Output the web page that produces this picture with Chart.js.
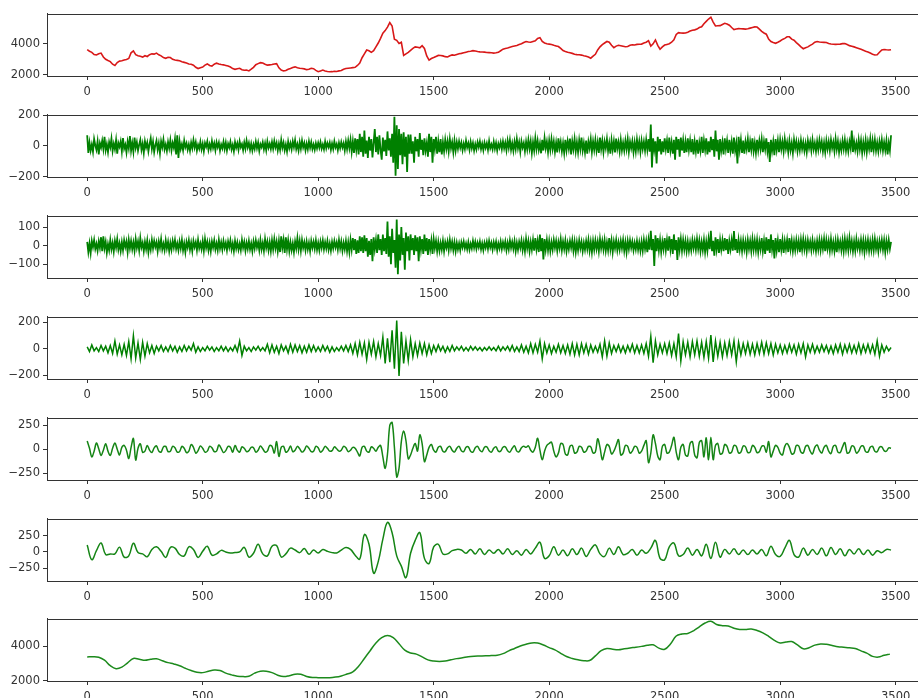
<!DOCTYPE html>
<html>
<head>
<meta charset="utf-8">
<script src="https://cdn.jsdelivr.net/npm/chart.js@4.4.1/dist/chart.umd.min.js"></script>
<style>
    html, body { margin: 0; padding: 0; background: #fff; }
    body { width: 918px; height: 698px; overflow: hidden; position: relative; }
    .panel { position: absolute; left: 0; width: 940px; height: 96px; }
</style>
</head>
<body>
<div id="panels"></div>
<script>
// tick labels shared by every subplot
const xTicks = [0, 500, 1000, 1500, 2000, 2500, 3000, 3500];

// original series, one value every 10 samples
const priceSeries = [
    3620, 3520, 3450, 3310, 3280, 3360, 3400, 3150, 3000, 2920, 2850, 2680, 2600, 2790, 2880, 2900, 2950, 2990, 3050, 3420,
    3540, 3300, 3230, 3190, 3140, 3230, 3180, 3300, 3350, 3330, 3400, 3290, 3220, 3110, 3060, 3130, 3110, 3000, 2950, 2930,
    2900, 2840, 2800, 2760, 2700, 2680, 2620, 2480, 2400, 2460, 2500, 2620, 2700, 2600, 2560, 2680, 2750, 2700, 2660, 2640,
    2600, 2560, 2500, 2400, 2350, 2390, 2420, 2330, 2290, 2300, 2250, 2360, 2480, 2650, 2720, 2780, 2760, 2680, 2620, 2640,
    2660, 2700, 2720, 2450, 2300, 2250, 2270, 2350, 2400, 2470, 2510, 2450, 2420, 2400, 2380, 2330, 2350, 2420, 2390, 2280,
    2200, 2250, 2300, 2240, 2210, 2190, 2200, 2230, 2210, 2250, 2280, 2360, 2400, 2420, 2440, 2460, 2480, 2600, 2750, 3100,
    3350, 3600, 3550, 3450, 3560, 3800, 4050, 4350, 4680, 4850, 5080, 5370, 5150, 4300, 4220, 4020, 4100, 3250, 3350, 3450,
    3580, 3700, 3800, 3780, 3740, 3880, 3700, 3210, 2950, 3050, 3110, 3180, 3250, 3240, 3220, 3170, 3150, 3230, 3280, 3260,
    3310, 3360, 3380, 3420, 3460, 3500, 3520, 3560, 3540, 3500, 3480, 3470, 3460, 3440, 3430, 3420, 3400, 3420, 3450, 3550,
    3650, 3700, 3730, 3780, 3820, 3860, 3890, 3950, 4000, 4080, 4150, 4120, 4100, 4150, 4200, 4350, 4400, 4150, 4050, 4000,
    3980, 3950, 3900, 3860, 3820, 3700, 3560, 3500, 3450, 3420, 3380, 3330, 3300, 3290, 3270, 3230, 3200, 3150, 3070, 3200,
    3320, 3600, 3800, 3950, 4050, 4150, 4100, 3900, 3750, 3850, 3900, 3870, 3840, 3810, 3820, 3900, 3940, 3920, 3960, 3970,
    3980, 4050, 4100, 4200, 3850, 4000, 4250, 3900, 3650, 3800, 3920, 3960, 4000, 4100, 4250, 4600, 4720, 4700, 4690, 4700,
    4750, 4820, 4880, 4900, 4950, 5050, 5100, 5300, 5450, 5600, 5720, 5400, 5150, 5160, 5170, 5250, 5320, 5280, 5200, 5050,
    4920, 4950, 4980, 4970, 4960, 4950, 4970, 5010, 5050, 5090, 5080, 4950, 4800, 4700, 4620, 4300, 4150, 4080, 4030, 4100,
    4180, 4280, 4350, 4450, 4450, 4300, 4230, 4080, 3950, 3800, 3680, 3750, 3800, 3900, 3980, 4100, 4150, 4120, 4100, 4090,
    4080, 4020, 3990, 3970, 3960, 3970, 3980, 4010, 4020, 3950, 3880, 3840, 3800, 3750, 3700, 3640, 3580, 3520, 3470, 3400,
    3330, 3280, 3290, 3450, 3600, 3630, 3610, 3600, 3620
];

// component 1, one value every 5 samples
const imf1 = [
    70, -45, 22, -30, 10, -38, 45, 5, -25, 30, -55, 18, -10, 35, -20, 60, -28, 12, -40, 25, -8, 48, -32, 15, -22, 38, -50, 20, -5, 30, -35, 52, -18, 8, -42, 28, -15, 65, -30, 20,
    -38, 55, -12, 25, -30, 8, 40, -25, 15, -45, 30, -10, 22, -35, 12, 50, -20, 28, -40, 5, 35, -25, 18, -48, 30, -8, 42, -22, 10, -32, 26, -15, 38, -28, 20, -12, 45, -55, 70, -78,
    30, -20, 12, -28, 35, -8, 18, -25, 10, -32, 22, -15, 38, -10, 25, -30, 8, -18, 28, -22, 15, -35, 20, -5, 30, -25, 12, -20, 32, -12, 18, -28, 25, -8, 22, -30, 10, -15, 28, -20,
    22, -30, 15, -10, 28, -22, 8, -35, 25, -12, 18, -25, 30, -8, 12, -28, 22, -18, 35, -10, 20, -25, 15, -30, 10, -20, 28, -15, 22, -32, 12, -8, 25, -22, 18, -28, 30, -12, 15, -20,
    25, -18, 32, -10, 20, -30, 15, -25, 40, -12, 22, -28, 10, -35, 28, -15, 18, -22, 30, -8, 38, -20, 12, -30, 25, -18, 35, -10, 20, -28, 15, -22, 30, -12, 25, -20, 10, -25, 18, -15,
    20, -12, 25, -18, 10, -22, 28, -15, 18, -8, 22, -25, 15, -20, 30, -10, 12, -28, 20, -15, 25, -10, 18, -30, 28, -20, 35, -15, 40, -38, 30, -45, 50, -25, 45, -55, 80, -40, 60, -70,
    100, -50, 35, -78, 60, -30, 45, -75, 20, 110, -40, 60, -55, 70, -25, -90, 55, -35, 40, -65, 95, -30, 50, -70, 80, -110, 190, -195, 135, -150, 110, -60, 80, -120, 90, -70, 60, -170, 75, -50,
    75, -50, 30, -110, 60, -35, 45, -70, 85, -25, 40, -60, 50, -30, 20, -70, 80, -40, 60, -110, 45, -20, 60, -50, 30, -40, 45, -55, 25, -35, 40, -20, 30, -35, 45, -15, 25, -40, 35, -30,
    25, -18, 30, -12, 22, -28, 15, -20, 35, -10, 18, -25, 28, -15, 20, -30, 12, -22, 25, -8, 30, -20, 15, -28, 22, -12, 18, -25, 32, -15, 10, -22, 28, -18, 20, -30, 15, -12, 25, -20,
    30, -15, 22, -28, 35, -12, 40, -25, 18, -32, 28, -20, 45, -15, 25, -38, 30, -10, 20, -35, 28, -22, 40, -18, 32, -45, 25, -30, 50, -20, 35, -25, 18, -48, 40, -30, 52, -15, 28, -40,
    35, -25, 45, -20, 30, -38, 22, -42, 50, -15, 28, -35, 20, -45, 40, -28, 32, -18, 48, -55, 30, -22, 45, -35, 25, -40, 38, -20, 55, -30, 20, -42, 35, -50, 28, -15, 45, -38, 30, -25,
    40, -30, 25, -45, 55, -20, 35, -40, 28, -15, 45, -32, 20, -50, 38, -25, 30, -42, 48, -18, 25, -35, 40, -28, 22, -30, 35, -20, 45, -38, 28, -15, 32, -40, 25, -35, 42, -22, 30, -38,
    35, -20, 28, -30, 40, -25, 45, -38, 140, -140, 50, -25, 30, -115, 60, -35, 45, -55, 30, -40, 50, -20, 35, -45, 55, -30, 25, -50, 40, -90, 60, -25, 45, -70, 55, -30, 38, -45, 28, -40,
    50, -25, 35, -40, 45, -55, 28, -35, 40, -50, 22, -30, 60, -45, 35, -25, 50, -55, 30, -40, 60, -28, 45, -70, 100, -35, 40, -90, 45, -30, 25, -55, 50, -20, 35, -45, 40, -30, 28, -50,
    55, -30, 20, -115, 60, -25, 40, -45, 35, -50, 28, -20, 45, -40, 30, -25, 50, -35, 22, -45, 40, -28, 35, -20, 45, -40, 30, -22, 50, -35, 25, -105, 40, -30, 28, -60, 45, -25, 35, -40,
    40, -22, 30, -35, 45, -18, 25, -40, 35, -28, 20, -45, 40, -15, 30, -35, 22, -28, 38, -20, 25, -32, 18, -40, 35, -15, 28, -30, 40, -22, 20, -35, 30, -25, 38, -18, 28, -35, 22, -40,
    35, -20, 28, -30, 40, -15, 25, -35, 45, -22, 30, -40, 18, -28, 35, -20, 40, -30, 22, -35, 28, -15, 100, -40, 30, -25, 20, -35, 40, -22, 35, -45, 25, -30, 38, -40, 28, -20, 45, -40,
    35, -25, 40, -30, 22, -35, 30, -20, 40, -30, 25, -28, 35, -55, 20, -30, 70
];

// component 2, one value every 5 samples
const imf2 = [
    20, -35, 12, -40, 25, -8, 30, -18, 10, -28, 22, -12, 45, -30, 50, -15, 20, -38, 8, -25, 30, -20, 15, -32, 25, -10, 35, -22, 12, -30, 18, -25, 28, -8, 22, -35, 30, -15, 25, -20,
    18, -28, 35, -12, 22, -25, 40, -10, 15, -30, 20, -18, 28, -35, 12, -22, 30, -15, 25, -8, 18, -30, 22, -12, 35, -20, 10, -25, 28, -15, 20, -30, 15, -22, 25, -10, 30, -18, 12, -25,
    22, -15, 30, -25, 12, -35, 20, -10, 28, -22, 15, -30, 25, -8, 18, -25, 30, -15, 12, -20, 25, -28, 35, -12, 20, -25, 15, -30, 22, -10, 28, -20, 12, -25, 30, -15, 18, -22, 25, -12,
    15, -25, 22, -10, 28, -20, 12, -30, 25, -15, 18, -22, 10, -25, 30, -12, 20, -28, 15, -18, 25, -20, 12, -30, 22, -15, 28, -10, 18, -25, 30, -20, 15, -28, 35, -12, 22, -25, 18, -30,
    28, -20, 35, -15, 22, -30, 25, -35, 50, -12, 30, -40, 45, -20, 28, -30, 18, -25, 12, -35, 22, -15, 40, -20, 25, -28, 30, -12, 18, -25, 22, -20, 15, -30, 25, -12, 20, -18, 28, -22,
    15, -25, 22, -12, 28, -20, 18, -15, 25, -22, 12, -28, 20, -15, 25, -10, 18, -22, 30, -15, 22, -28, 15, -20, 25, -30, 18, -35, 30, -22, 40, -25, 35, -45, 28, -40, 50, -30, 45, -40,
    55, -30, 40, -60, 25, -50, 35, -85, 45, -20, 30, -40, 60, -25, 35, -50, 60, -30, 40, -45, 130, -60, 50, -100, 90, -40, 30, -120, 140, -155, 60, -80, 100, -50, 40, -130, 70, -30, 50, -80,
    60, -25, 40, -50, 55, -30, 45, -85, 50, -20, 35, -45, 60, -30, 40, -50, 35, -20, 28, -45, 35, -15, 25, -30, 20, -28, 15, -22, 25, -30, 18, -12, 22, -25, 30, -15, 20, -25, 18, -30,
    15, -20, 12, -25, 18, -10, 22, -15, 12, -20, 18, -22, 10, -15, 25, -12, 20, -18, 15, -10, 22, -20, 12, -25, 15, -12, 20, -18, 25, -10, 15, -22, 18, -12, 20, -25, 12, -15, 22, -18,
    18, -12, 22, -25, 15, -20, 28, -12, 20, -18, 25, -30, 15, -22, 20, -12, 28, -25, 18, -30, 35, -15, 25, -30, 20, -22, 30, -28, 40, -20, 25, -35, 60, -30, 40, -75, 35, -22, 30, -25,
    25, -30, 18, -22, 30, -12, 25, -28, 20, -15, 35, -25, 22, -18, 28, -30, 15, -20, 25, -12, 30, -28, 22, -35, 18, -25, 28, -15, 20, -30, 15, -22, 25, -18, 30, -28, 20, -35, 25, -22,
    28, -18, 22, -30, 35, -15, 25, -22, 30, -28, 18, -25, 40, -20, 28, -35, 22, -15, 30, -25, 18, -22, 25, -15, 30, -28, 20, -35, 25, -18, 28, -12, 22, -25, 15, -20, 25, -22, 18, -28,
    22, -28, 30, -18, 25, -35, 30, -22, 80, -25, 35, -110, 55, -30, 40, -25, 30, -35, 22, -20, 40, -25, 30, -28, 50, -20, 35, -45, 60, -25, 30, -78, 45, -20, 35, -28, 30, -22, 25, -30,
    22, -28, 18, -25, 30, -15, 25, -22, 35, -18, 28, -30, 20, -25, 30, -35, 22, -28, 35, -20, 80, -30, 25, -55, 45, -20, 35, -40, 30, -22, 28, -30, 40, -25, 35, -45, 25, -20, 30, -28,
    78, -25, 35, -40, 30, -22, 25, -30, 28, -20, 22, -35, 30, -18, 25, -30, 35, -22, 28, -25, 30, -35, 22, -20, 40, -30, 25, -45, 45, -28, 35, -40, 60, -20, 30, -70, 40, -25, 28, -35,
    35, -22, 30, -40, 25, -18, 30, -35, 40, -20, 28, -30, 22, -25, 30, -18, 25, -35, 30, -22, 35, -20, 25, -30, 28, -15, 22, -25, 30, -20, 18, -30, 25, -22, 30, -25, 28, -18, 35, -30,
    30, -18, 25, -28, 35, -22, 20, -30, 25, -35, 30, -15, 22, -25, 28, -30, 35, -20, 30, -25, 40, -18, 25, -30, 22, -28, 35, -15, 20, -25, 30, -22, 28, -35, 25, -20, 30, -28, 22, -25,
    30, -25, 35, -18, 22, -30, 25, -15, 30, -22, 28, -35, 25, -20, 30, -18, 20
];

// component 3, one value every 10 samples
const imf3 = [
    15, -20, 30, -15, 10, -20, 25, -15, 20, -30, 25, -35, 60, -40, 30, -45, 35, -50, 55, -75,
    100, -70, 45, -80, 50, -55, 40, -30, 25, -35, 20, -15, 25, -20, 15, -20, 25, -15, 20, -25,
    15, -20, 25, -15, 20, -10, 40, -25, 15, -20, 10, -15, 20, -10, 15, -20, 10, -15, 20, -15,
    15, -20, 10, -15, 25, -20, 60, -50, 20, -15, 10, -20, 15, -10, 20, -15, 10, -15, 35, -30,
    30, -25, 20, -35, 30, -15, 20, -30, 35, -25, 30, -20, 25, -30, 20, -25, 30, -20, 25, -20,
    15, -20, 25, -15, 20, -25, 15, -20, 10, -15, 20, -15, 25, -20, 30, -35, 40, -45, 50, -40,
    45, -80, 50, -40, 55, -60, 40, -50, 90, -110, 80, -100, 140, -150, 215, -205, 130, -110, 60, -87,
    70, -60, 40, -50, 45, -35, 40, -45, 30, -35, 25, -20, 30, -15, 20, -25, 15, -20, 25, -15,
    15, -10, 20, -15, 10, -15, 20, -10, 15, -10, 10, -15, 10, -10, 15, -10, 10, -15, 20, -15,
    15, -10, 20, -15, 25, -20, 15, -20, 30, -25, 20, -30, 40, -30, 35, -25, 60, -75, 40, -30,
    30, -35, 20, -25, 35, -30, 25, -35, 30, -40, 40, -45, 35, -45, 40, -30, 35, -40, 30, -25,
    20, -25, 35, -60, 60, -55, 45, -35, 25, -20, 30, -25, 20, -30, 25, -20, 35, -30, 25, -30,
    30, -35, 40, -55, 95, -105, 60, -45, 35, -30, 40, -35, 45, -50, 40, -60, 115, -93, 55, -45,
    50, -60, 55, -45, 60, -55, 50, -65, 55, -70, 105, -98, 60, -55, 50, -60, 45, -50, 55, -45,
    60, -98, 50, -45, 40, -35, 45, -40, 35, -45, 40, -35, 50, -40, 45, -35, 40, -45, 35, -30,
    30, -35, 25, -30, 35, -25, 30, -40, 35, -30, 40, -60, 30, -25, 35, -30, 20, -25, 30, -20,
    25, -30, 20, -35, 30, -25, 35, -40, 30, -25, 35, -30, 25, -30, 40, -35, 30, -25, 35, -30,
    30, -40, 60, -55, 30, -25, 20, -15, 10
];

// component 4, one value every 10 samples
const imf4 = [
    87, 10, -80, -20, 65, 5, -65, -10, 58, -20, -65, 10, 65, 0, -60, 20, 40, -10, -97, 20,
    113, -113, 10, 58, -32, -20, 40, -10, -35, 15, 35, -20, -30, 25, 30, -25, -20, 30, 15, -30,
    -25, 30, 10, -35, -20, 50, 20, -40, -15, 35, 10, -30, -20, 30, 15, -25, -20, 45, 10, -35,
    -15, 30, 20, -30, 40, -10, -30, 25, 10, -25, -15, 20, 15, -30, -10, 35, 5, -30, -20, 40,
    30, -40, 80, -75, 20, 30, -30, -15, 35, -25, -10, 30, 5, -30, -10, 35, 10, -25, -20, 30,
    15, -30, -10, 30, 10, -20, -15, 25, 5, -20, -10, 30, 15, -25, -10, 20, 10, -30, -70, 20,
    30, -20, -30, 25, 10, -20, 20, 40, -80, -200, -50, 250, 280, 20, -290, -200, 80, 190, 90, -100,
    -60, 10, 60, -20, 150, 60, -130, -60, 20, 50, -10, -30, 20, 30, -20, -25, 15, 30, -10, -30,
    10, 30, -15, -25, 20, 25, -20, -30, 15, 30, -10, -25, 20, 25, -15, -30, 10, 25, -20, -20,
    20, 25, -15, -30, 10, 35, -20, -25, 15, 30, 20, 35, -10, -30, 20, 115, -10, -110, -20, 40,
    60, 75, -20, -80, -40, 60, 50, -50, -60, 30, 40, -40, -30, 30, 20, -30, -20, 30, 25, -40,
    -30, 110, 20, -110, -30, 50, 30, -50, -20, 40, 100, -60, -40, 40, 30, -40, -20, 30, 20, -40,
    -20, 40, 90, -140, -40, 150, 60, -70, -110, 30, 50, -40, -30, 40, 125, -30, -110, 20, 50, -60,
    -70, 60, 80, -60, -90, 70, 90, -80, 120, -110, 125, -110, 40, 60, -50, -40, 50, 30, -40, -30,
    40, 30, -40, -30, 35, 25, -35, -30, 40, 20, -35, -25, 30, 35, -30, 80, -80, -20, 40, 20,
    -40, -60, 30, 60, 20, -50, -40, 40, 35, -30, -40, 30, 40, -20, -50, 20, 45, -10, -40, 20,
    40, -20, -45, 30, 40, -30, -35, 25, 70, -40, -30, 35, 25, -40, -20, 30, 35, -25, -30, 20,
    30, -20, -25, 20, 25, -15, -20, 15, 10
];

// component 5, one value every 20 samples
const imf5 = [
    107, -120, 20, 140, -40, -30, -30, 75, -80, -60,
    135, -10, -30, -75, 40, 80, 10, -85, 70, 60,
    -40, -60, 80, 40, -85, 10, 90, -50, -30, 25,
    0, -15, -10, 0, 73, -80, -20, 120, -30, -60,
    90, 100, -78, -30, 60, 30, -10, 55, -35, 30,
    -15, 40, 10, -10, -15, 30, 68, 40, -50, -110,
    270, 120, -330, -150, 200, 460, 300, -60, -220, -400,
    -20, 180, 300, -100, -180, 80, 120, -30, -30, 20,
    40, 30, -20, 40, -30, 50, -40, 30, -20, 40,
    -30, 50, -40, 20, -50, 40, -30, 60, 150, -100,
    -60, 80, -50, 30, -60, 50, -40, 60, -70, 40,
    110, -30, -70, 60, -40, 80, -40, -20, 40, -50,
    30, -20, 60, 180, -100, -120, 80, 140, -60, -40,
    60, -50, 40, -60, 120, -100, 150, -80, 40, -30,
    50, -40, 30, -40, 30, -30, 40, -60, 90, -40,
    -70, 60, 180, -40, -80, 60, -50, 40, -40, 60,
    -60, 70, -40, 50, -60, 40, -30, 50, -40, 30,
    -50, 20, -10, 40, 30
];

// trend, one value every 25 samples
const trend = [
    3390, 3400, 3370, 3200, 2880, 2710, 2800, 3050,
    3300, 3250, 3190, 3250, 3280, 3170, 3060, 2980,
    2880, 2730, 2600, 2500, 2480, 2560, 2630, 2600,
    2450, 2350, 2270, 2250, 2270, 2450, 2560, 2560,
    2480, 2330, 2250, 2300, 2390, 2380, 2260, 2200,
    2190, 2180, 2180, 2220, 2290, 2400, 2520, 2850,
    3300, 3750, 4200, 4500, 4630, 4500, 4150, 3780,
    3620, 3550, 3390, 3220, 3150, 3130, 3150, 3220,
    3290, 3340, 3400, 3430, 3440, 3450, 3470, 3490,
    3580, 3740, 3880, 4020, 4120, 4200, 4190, 4080,
    3930, 3800, 3600, 3410, 3300, 3220, 3170, 3180,
    3450, 3750, 3880, 3830, 3800, 3860, 3910, 3950,
    4000, 4060, 4090, 3900, 3830, 4140, 4600, 4720,
    4750, 4900, 5130, 5350, 5450, 5270, 5200, 5180,
    5050, 4980, 4980, 5000, 4920, 4780, 4580, 4350,
    4200, 4250, 4280, 4080, 3860, 3920, 4070, 4140,
    4120, 4050, 3980, 3950, 3920, 3880, 3740, 3610,
    3420, 3380, 3480, 3550
];

document.addEventListener("DOMContentLoaded", () => {
    const font = { family: "DejaVu Sans", size: 11.5 };
    const ink = "#333";

    const panels = [
        { values: priceSeries, step: 10, color: "#d81818", width: 1.6, yMin: 1920, yMax: 5930, yTicks: [2000, 4000], top: 9, tension: 0 },
        { values: imf1, step: 5, color: "#008000", width: 1.8, yMin: -203, yMax: 203, yTicks: [-200, 0, 200], top: 110, tension: 0 },
        { values: imf2, step: 5, color: "#008000", width: 1.8, yMin: -175, yMax: 160, yTicks: [-100, 0, 100], top: 211, tension: 0 },
        { values: imf3, step: 10, color: "#008000", width: 1.5, yMin: -228, yMax: 242, yTicks: [-200, 0, 200], top: 312, tension: 0 },
        { values: imf4, step: 10, color: "#158515", width: 1.5, yMin: -322, yMax: 328, yTicks: [-250, 0, 250], top: 413, tension: 0.35 },
        { values: imf5, step: 20, color: "#158515", width: 1.5, yMin: -452, yMax: 515, yTicks: [-250, 0, 250], top: 514, tension: 0.4 },
        { values: trend, step: 25, color: "#1c8a1c", width: 1.5, yMin: 1995, yMax: 5590, yTicks: [2000, 4000], top: 614, tension: 0.4 },
    ];

    // matplotlib-style full frame round the plot area
    const frame = {
        id: "frame",
        afterDatasetsDraw(chart) {
            const { ctx, chartArea: a } = chart;
            ctx.save();
            ctx.strokeStyle = ink;
            ctx.lineWidth = 1;
            ctx.strokeRect(Math.round(a.left) + 0.5, Math.round(a.top) + 0.5,
                Math.round(a.right - a.left), Math.round(a.bottom - a.top));
            ctx.restore();
        },
    };

    const container = document.getElementById("panels");

    panels.forEach((p, index) => {
        const box = document.createElement("div");
        box.className = "panel";
        box.style.top = (p.top - 5) + "px";
        box.innerHTML = `<canvas id="chart-${index}" width="940" height="96"></canvas>`;
        container.appendChild(box);

        const ctx = document.getElementById(`chart-${index}`).getContext("2d");
        new Chart(ctx, {
            type: "line",
            data: {
                datasets: [{
                    data: p.values.map((v, i) => ({ x: i * p.step, y: v })),
                    borderColor: p.color,
                    borderWidth: p.width,
                    pointRadius: 0,
                    tension: p.tension,
                    fill: false,
                }],
            },
            options: {
                responsive: false,
                animation: false,
                devicePixelRatio: 1,
                layout: { padding: { top: 5, right: 9, left: 0, bottom: 0 } },
                plugins: { legend: { display: false }, tooltip: { enabled: false } },
                scales: {
                    x: {
                        type: "linear",
                        min: -174,
                        max: 3653,
                        afterFit: (s) => { s.height = 24; },
                        afterBuildTicks: (s) => { s.ticks = xTicks.map((v) => ({ value: v })); },
                        ticks: { font, color: ink, padding: 5, maxRotation: 0, autoSkip: false, callback: (v) => String(v) },
                        grid: { drawOnChartArea: false, tickLength: 4, color: ink },
                        border: { color: ink },
                    },
                    y: {
                        min: p.yMin,
                        max: p.yMax,
                        afterFit: (s) => { s.width = 47; },
                        afterBuildTicks: (s) => { s.ticks = p.yTicks.map((v) => ({ value: v })); },
                        ticks: { font, color: ink, padding: 3, callback: (v) => String(v).replace("-", "\u2212") },
                        grid: { drawOnChartArea: false, tickLength: 4, color: ink },
                        border: { color: ink },
                    },
                },
            },
            plugins: [frame],
        });
    });
});
</script>
</body>
</html>
